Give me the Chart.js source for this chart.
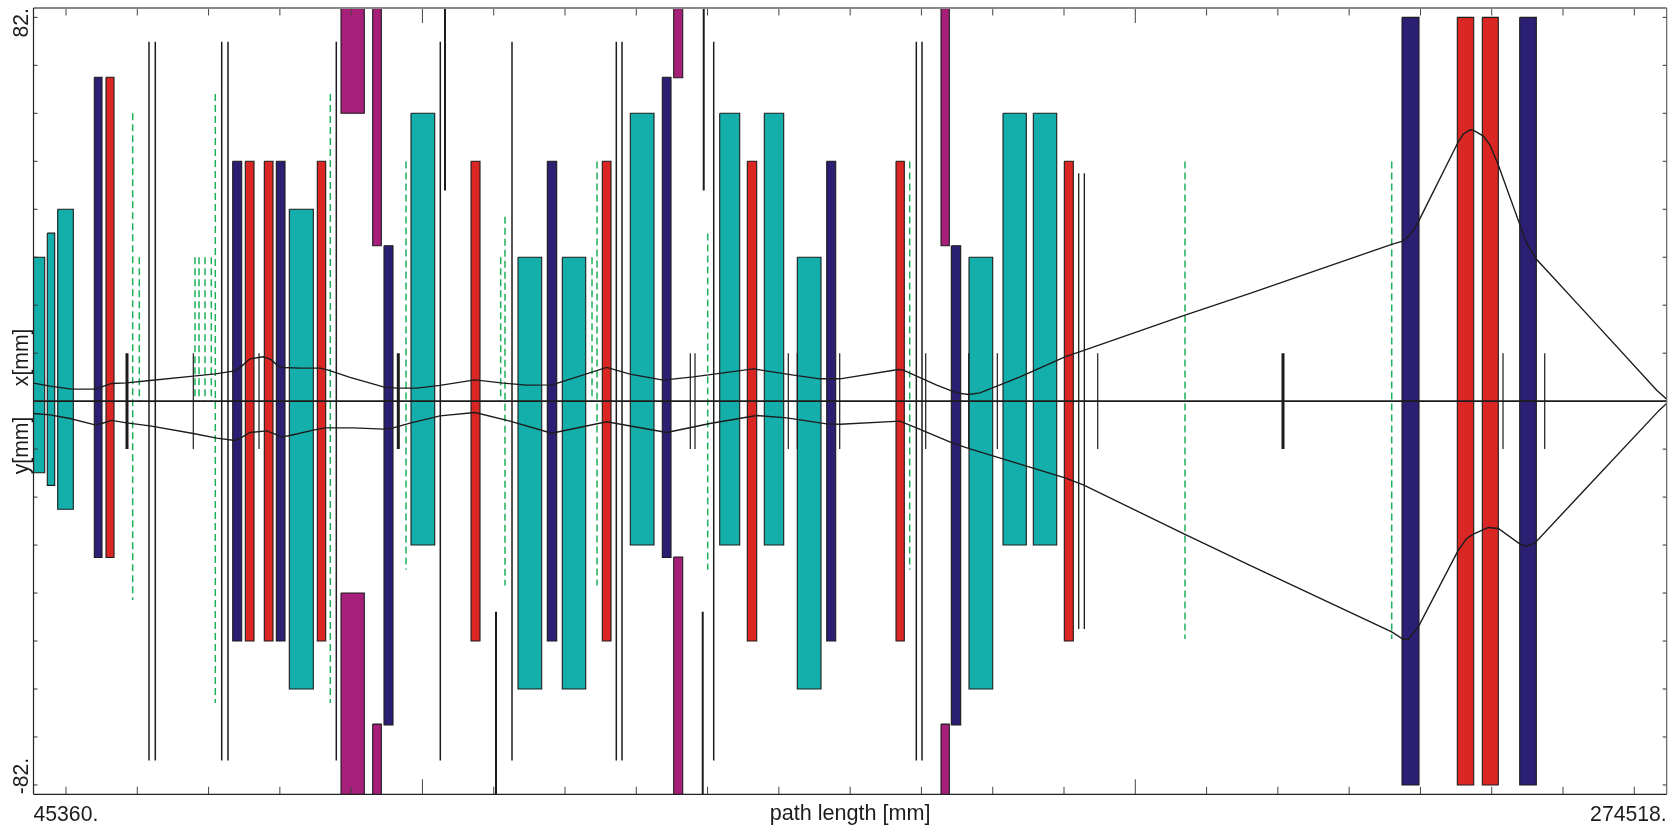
<!DOCTYPE html>
<html>
<head>
<meta charset="utf-8">
<title>Beam envelope</title>
<style>
  html, body { margin: 0; padding: 0; background: #fff; }
  canvas { display: block; }
</style>
</head>
<body>
<canvas id="envelope" width="1671" height="827"></canvas>
<script src="https://cdn.jsdelivr.net/npm/chart.js@4/dist/chart.umd.js"></script>
<script>
// axis limits and ticks, path length in mm, aperture in mm
const xMin = 40611;
const xMax = 279252;
const yMin = -84;
const yMax = 84;
const xTicks = [45360, 55776, 66193, 76609, 87025, 97441, 107858, 118274, 128690, 139106, 149523, 159939, 170355, 180771, 191188, 201604, 212020, 222437, 232853, 243269, 253685, 264102, 274518];
const xLongTicks = [97441, 201604];
const yTicks = [82, 71.75, 61.5, 51.25, 41, 30.75, 20.5, 10.25, 0, -10.25, -20.5, -30.75, -41, -51.25, -61.5, -71.75, -82];
const xTickLabels = ['45360.', '274518.'];
const yTickLabels = ['82.', '-82.'];
const xTitle = 'path length [mm]';
const yTitleUpper = 'x[mm]';
const yTitleLower = 'y[mm]';

// teal elements
const tealStart = [40611, 42627, 44147, 77989, 95771, 111406, 117879, 127816, 140879, 147396, 152217, 177306, 182274, 186702];
const tealEnd = [42248, 43709, 46427, 81495, 99234, 114869, 121298, 131278, 143801, 150230, 155681, 180769, 185679, 190121];
const tealTop = [30.75, 35.9, 41, 41, 61.5, 30.75, 30.75, 61.5, 61.5, 61.5, 30.75, 30.75, 61.5, 61.5];
const tealBottom = [-15.3, -18, -23.1, -61.5, -30.75, -61.5, -61.5, -30.75, -30.75, -30.75, -61.5, -61.5, -30.75, -30.75];

// navy elements
const navyStart = [49495, 69718, 76089, 91826, 115687, 132491, 156513, 174720, 240576, 257774];
const navyEnd = [50620, 71033, 77360, 93141, 117061, 133763, 157829, 176093, 243060, 260201];
const navyTop = [69.2, 51.25, 51.25, 33.2, 51.25, 69.2, 51.25, 33.2, 82, 82];
const navyBottom = [-33.4, -51.25, -51.25, -69.2, -51.25, -33.4, -51.25, -69.2, -82, -82];

// red elements
const redStart = [51205, 71559, 74336, 82080, 104539, 123724, 144912, 166640, 191232, 248657, 252310];
const redEnd = [52374, 72830, 75607, 83307, 105854, 124995, 146285, 167853, 192547, 251053, 254648];
const redTop = [69.2, 51.25, 51.25, 51.25, 51.25, 51.25, 51.25, 51.25, 51.25, 82, 82];
const redBottom = [-33.4, -51.25, -51.25, -51.25, -51.25, -51.25, -51.25, -51.25, -51.25, -82, -82];

// magenta elements run off the plot, only the inner edges are visible
const magentaStart = [85543, 90175, 134157, 173215];
const magentaEnd = [88947, 91432, 135472, 174428];
const magentaUpper = [61.5, 33.2, 69.1, 33.2];
const magentaLower = [-41, -69, -33.3, -69];

// black vertical lines
const tallLineX = [57488, 58408, 68111, 69031, 84856, 100053, 110529, 125770, 126603, 140002, 169608, 170439];
const tallLineHalf = 76.8;
const midLineX = [193336, 194156];
const midLineHalf = 48.7;
const thickMarkX = [54273, 93916, 223188];
const thinMarkX = [63961, 73561, 136583, 137269, 150902, 152217, 158413, 170979, 177262, 181442, 196112, 255334, 261428];
const markHalf = 10.25;
const upperSlitX = [100739, 138541];
const lowerSlitX = [108192, 138395];
const slitEdge = 45;

// green dashed lines
const dashX = [55106, 56070, 64209, 64794, 65671, 66591, 67176, 83980, 95041, 108878, 109507, 122219, 122950, 139125, 168641, 208868, 239071];
const dashTop = [61.5, 30.75, 30.75, 30.75, 30.75, 30.75, 65.6, 65.6, 51.2, 30.75, 39.4, 30.75, 51.2, 35.8, 51.2, 51.2, 51.2];
const dashBottom = [-42.5, 0, 0, 0, 0, 0, -64.5, -64.5, -36, 0, -39.4, 0, -39.4, -36, -36, -50.8, -50.8];

// envelope above the axis (x plane)
const xEnvS = [40611, 43022, 46193, 49597, 50576, 52038, 54229, 57634, 63961, 67176, 70054, 71033, 72246, 74190, 75271, 76381, 77112, 79552, 82474, 83687, 86858, 91724, 93682, 96604, 100009, 105123, 109258, 112677, 116330, 117295, 124367, 127772, 132637, 137021, 145788, 150669, 155534, 158457, 166976, 167706, 172587, 175509, 177204, 178914, 184758, 191334, 194505, 208868, 218366, 239071, 240766, 241745, 242958, 248803, 249534, 250512, 250995, 252456, 253435, 254648, 257818, 258797, 260156, 267068, 277793, 279252];
const xEnv = [3.85, 3.21, 2.56, 2.56, 3.06, 3.78, 3.91, 4.42, 5.34, 5.83, 6.48, 7.48, 9.04, 9.47, 8.91, 7.48, 7.2, 7.05, 7.05, 6.63, 5.07, 3.06, 2.78, 2.78, 3.36, 4.55, 3.85, 3.42, 3.48, 3.91, 7.2, 5.77, 4.49, 5.19, 6.9, 5.77, 4.77, 4.77, 6.77, 6.63, 3.42, 1.77, 1.43, 1.77, 5.19, 9.47, 11.05, 18.38, 23.02, 33.49, 34.26, 35.48, 38.32, 55.42, 57.06, 57.98, 57.92, 56.64, 54.71, 50.44, 37.61, 33.7, 30.41, 19.45, 2.35, 0.43];

// envelope below the axis (y plane)
const yEnvS = [40611, 43022, 45944, 49597, 50576, 52038, 54229, 57634, 63961, 67380, 70054, 71033, 72246, 74686, 75651, 76878, 78091, 81495, 83205, 87340, 91724, 93185, 95625, 100009, 105123, 110237, 116330, 124367, 133134, 139461, 146285, 150669, 156514, 158457, 167224, 170146, 175013, 177452, 191334, 194008, 208868, 218366, 239071, 240766, 241497, 242958, 248803, 250030, 250995, 253186, 254648, 257818, 258797, 260010, 267068, 278173, 279252];
const yEnv = [-2.63, -2.93, -3.7, -5.07, -4.77, -4.12, -4.64, -5.28, -6.9, -7.91, -8.4, -7.76, -6.69, -6.35, -6.9, -7.69, -7.33, -6.2, -5.71, -5.71, -5.98, -5.71, -4.7, -3.14, -2.42, -4.27, -6.84, -4.42, -6.69, -4.77, -3.06, -3.57, -4.85, -4.92, -4.27, -6.05, -9.04, -10.19, -16.39, -17.89, -28.49, -35.11, -49.31, -50.87, -50.87, -48.24, -31.84, -29.34, -28.42, -26.99, -27.21, -30.56, -30.99, -30.28, -19.24, -1.92, -0.49];

const FONT = '21.2px "Liberation Sans", Arial, sans-serif';
const INK = '#1c1c1c';

// Helper: closed box as a line dataset
function box(x0, x1, top, bottom, color) {
  return {
    data: [{ x: x0, y: top }, { x: x1, y: top }, { x: x1, y: bottom }, { x: x0, y: bottom }, { x: x0, y: top }],
    borderColor: INK,
    borderWidth: 1.1,
    backgroundColor: color,
    borderJoinStyle: 'miter',
    fill: 'shape',
  };
}

// Helper: vertical line
function vline(x, top, bottom, width, color, dash) {
  return {
    data: [{ x: x, y: top }, { x: x, y: bottom }],
    borderColor: color || INK,
    borderWidth: width,
    borderDash: dash || [],
    borderCapStyle: 'butt',
    fill: false,
  };
}

function curve(xs, ys) {
  return {
    data: xs.map((x, i) => ({ x: x, y: ys[i] })),
    borderColor: INK,
    borderWidth: 1.4,
    tension: 0,
    fill: false,
  };
}

// first dataset ends up on top in Chart.js
const datasets = [
  curve(xEnvS, xEnv),
  curve(yEnvS, yEnv),
  { data: [{ x: xMin, y: 0 }, { x: xMax, y: 0 }], borderColor: INK, borderWidth: 1.6, fill: false },
];
upperSlitX.forEach(x => datasets.push(vline(x, slitEdge, yMax, 2)));
lowerSlitX.forEach(x => datasets.push(vline(x, -slitEdge, yMin, 2)));
tallLineX.forEach(x => datasets.push(vline(x, tallLineHalf, -tallLineHalf, 1.5)));
midLineX.forEach(x => datasets.push(vline(x, midLineHalf, -midLineHalf, 1.3)));
thickMarkX.forEach(x => datasets.push(vline(x, markHalf, -markHalf, 3)));
thinMarkX.forEach(x => datasets.push(vline(x, markHalf, -markHalf, 1.2)));
dashX.forEach((x, i) => datasets.push(vline(x, dashTop[i], dashBottom[i], 1.5, '#1bb05a', [7, 4])));
tealStart.forEach((x, i) => datasets.push(box(x, tealEnd[i], tealTop[i], tealBottom[i], '#14aeab')));
navyStart.forEach((x, i) => datasets.push(box(x, navyEnd[i], navyTop[i], navyBottom[i], '#2b1f73')));
redStart.forEach((x, i) => datasets.push(box(x, redEnd[i], redTop[i], redBottom[i], '#da2724')));
magentaStart.forEach((x, i) => {
  datasets.push(box(x, magentaEnd[i], yMax + 2, magentaUpper[i], '#a61f78'));
  datasets.push(box(x, magentaEnd[i], magentaLower[i], yMin - 2, '#a61f78'));
});

// Plot frame and inward tick marks
const framePlugin = {
  id: 'frame',
  afterDatasetsDraw(chart) {
    const { ctx, chartArea: a, scales: { x, y } } = chart;
    const seg = (x0, y0, x1, y1, color, width) => {
      ctx.strokeStyle = color;
      ctx.lineWidth = width;
      ctx.beginPath();
      ctx.moveTo(x0, y0);
      ctx.lineTo(x1, y1);
      ctx.stroke();
    };
    ctx.save();
    xTicks.forEach(v => {
      const px = x.getPixelForValue(v);
      const len = xLongTicks.includes(v) ? 15 : 7.5;
      seg(px, a.top, px, a.top + len, '#444', 1);
      seg(px, a.bottom, px, a.bottom - len, '#444', 1);
    });
    yTicks.forEach(v => {
      const py = y.getPixelForValue(v);
      seg(a.left, py, a.left + 4, py, '#333', 1);
      seg(a.right, py, a.right - 4, py, '#333', 1);
    });
    seg(a.left, a.top, a.right, a.top, '#888', 1.8);
    seg(a.right, a.top, a.right, a.bottom, '#555', 1.1);
    seg(a.left, a.bottom, a.right, a.bottom, '#222', 1.2);
    seg(a.left, a.top, a.left, a.bottom, '#222', 1.2);
    ctx.restore();
  },
  // Tick labels sit flush with the plot corners, so they are drawn here
  afterDraw(chart) {
    const { ctx, chartArea: a, scales: { y } } = chart;
    ctx.save();
    ctx.font = FONT;
    ctx.fillStyle = INK;
    ctx.textBaseline = 'alphabetic';
    ctx.textAlign = 'left';
    ctx.fillText(xTickLabels[0], a.left, 820.5);
    ctx.textAlign = 'right';
    ctx.fillText(xTickLabels[1], a.right, 820.5);

    const upright = (text, value, align) => {
      ctx.save();
      ctx.translate(27.5, y.getPixelForValue(value));
      ctx.rotate(-Math.PI / 2);
      ctx.textAlign = align;
      ctx.fillText(text, 0, 0);
      ctx.restore();
    };
    upright(yTickLabels[0], yMax, 'right');
    upright(yTickLabels[1], yMin, 'left');
    upright(yTitleUpper, 3.2, 'left');
    upright(yTitleLower, -3.3, 'right');
    ctx.restore();
  },
};

new Chart(document.getElementById('envelope').getContext('2d'), {
  type: 'line',
  data: { datasets },
  plugins: [framePlugin],
  options: {
    responsive: false,
    animation: false,
    layout: { padding: { left: 33.5, right: 4.3, top: 8, bottom: 0 } },
    elements: { point: { radius: 0 } },
    plugins: { legend: { display: false }, tooltip: { enabled: false } },
    scales: {
      x: {
        type: 'linear',
        min: xMin,
        max: xMax,
        grid: { display: false },
        border: { display: false },
        ticks: { display: false },
        title: {
          display: true,
          text: xTitle,
          color: INK,
          font: { family: '"Liberation Sans", Arial, sans-serif', size: 21.6 },
          padding: { top: 0, bottom: 0 },
        },
        afterFit(scale) { scale.height = 32.7; },
      },
      y: {
        min: yMin,
        max: yMax,
        grid: { display: false },
        border: { display: false },
        ticks: { display: false },
        afterFit(scale) { scale.width = 0; },
      },
    },
  },
});
</script>
</body>
</html>
